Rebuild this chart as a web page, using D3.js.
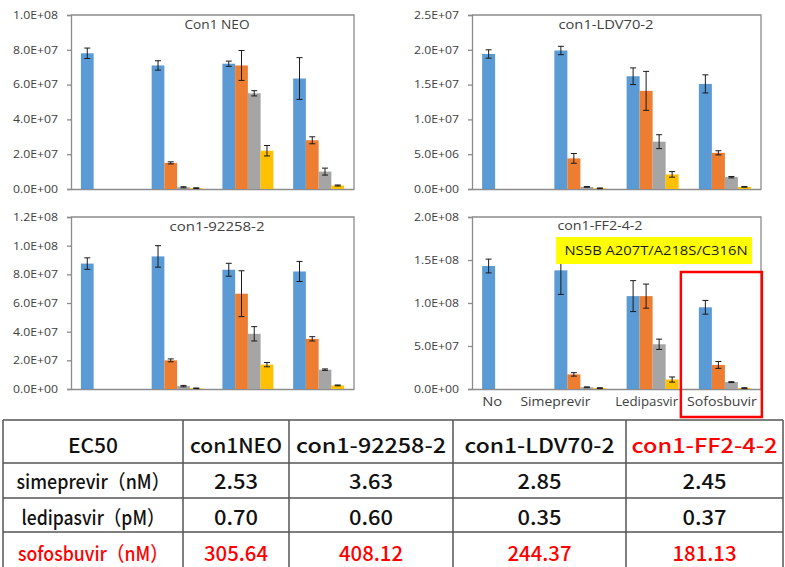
<!DOCTYPE html>
<html>
<head>
<meta charset="utf-8">
<script src="https://cdn.jsdelivr.net/npm/d3@7"></script>
<style>
  html, body { margin: 0; padding: 0; background: #fff; }
  svg { display: block; }
</style>
</head>
<body>
<svg id="chart" width="785" height="567"></svg>
<script>
// ---------------- DATA ----------------
const categories = ["No", "Simeprevir", "Ledipasvir", "Sofosbuvir"];
const seriesNames = ["c1", "c2", "c3", "c4"];
const seriesColors = ["#5B9BD5", "#ED7D31", "#A5A5A5", "#FFC000"];

// con1NEO
const neoValues = [
  [7.8e7, 7.1e7, 7.2e7, 6.35e7],
  [null, 1.5e7, 7.1e7, 2.8e7],
  [null, 1.0e6, 5.5e7, 1.0e7],
  [null, 0.5e6, 2.2e7, 2.0e6]
];
const neoErrors = [
  [3e6, 2.7e6, 1.5e6, 1.2e7],
  [null, 0.6e6, 8.6e6, 2e6],
  [null, 0.3e6, 1.5e6, 2e6],
  [null, 0.2e6, 3e6, 0.3e6]
];
const neoTicks = [0, 2e7, 4e7, 6e7, 8e7, 1e8];

// con1-LDV70-2
const ldvValues = [
  [1.94e7, 1.99e7, 1.62e7, 1.51e7],
  [null, 4.4e6, 1.41e7, 5.2e6],
  [null, 0.3e6, 6.8e6, 1.7e6],
  [null, 0.1e6, 2.1e6, 0.3e6]
];
const ldvErrors = [
  [0.6e6, 0.6e6, 1.2e6, 1.3e6],
  [null, 0.7e6, 2.8e6, 0.3e6],
  [null, 0.05e6, 1.0e6, 0.1e6],
  [null, 0.05e6, 0.4e6, 0.05e6]
];
const ldvTicks = [0, 5e6, 1e7, 1.5e7, 2e7, 2.5e7];

// con1-92258-2
const v92Values = [
  [8.75e7, 9.25e7, 8.32e7, 8.2e7],
  [null, 2.0e7, 6.65e7, 3.5e7],
  [null, 2.0e6, 3.85e7, 1.35e7],
  [null, 0.5e6, 1.7e7, 2.5e6]
];
const v92Errors = [
  [4e6, 7.5e6, 4.5e6, 7e6],
  [null, 1e6, 1.6e7, 1.5e6],
  [null, 0.5e6, 5e6, 0.5e6],
  [null, 0.2e6, 1.5e6, 0.3e6]
];
const v92Ticks = [0, 2e7, 4e7, 6e7, 8e7, 1e8, 1.2e8];

// con1-FF2-4-2
const ffValues = [
  [1.43e8, 1.38e8, 1.08e8, 0.95e8],
  [null, 1.7e7, 1.08e8, 2.8e7],
  [null, 2.0e6, 5.2e7, 8.0e6],
  [null, 1.0e6, 1.1e7, 1.0e6]
];
const ffErrors = [
  [8e6, 2.8e7, 1.8e7, 8e6],
  [null, 2e6, 1.4e7, 4e6],
  [null, 0.5e6, 6e6, 0.5e6],
  [null, 0.5e6, 3e6, 0.5e6]
];
const ffTicks = [0, 5e7, 1e8, 1.5e8, 2e8];

const panelTitles = ["Con1 NEO", "con1-LDV70-2", "con1-92258-2", "con1-FF2-4-2"];
const annotationText = "NS5B  A207T/A218S/C316N";

// table
const tableHeader = ["EC50", "con1NEO", "con1-92258-2", "con1-LDV70-2", "con1-FF2-4-2"];
const tableRowLabels = ["simeprevir（nM）", "ledipasvir（pM）", "sofosbuvir（nM）"];
const simeprevirEC50 = ["2.53", "3.63", "2.85", "2.45"];
const ledipasvirEC50 = ["0.70", "0.60", "0.35", "0.37"];
const sofosbuvirEC50 = ["305.64", "408.12", "244.37", "181.13"];

// ---------------- LAYOUT ----------------
const panels = [
  {title: panelTitles[0], values: neoValues, errors: neoErrors, ticks: neoTicks,
   left: 71, right: 354, top: 15, bottom: 189, titleX: 217, titleY: 29, titleW: 65},
  {title: panelTitles[1], values: ldvValues, errors: ldvErrors, ticks: ldvTicks,
   left: 472, right: 761, top: 15, bottom: 189, titleX: 606, titleY: 29, titleW: 95},
  {title: panelTitles[2], values: v92Values, errors: v92Errors, ticks: v92Ticks,
   left: 71, right: 354, top: 217, bottom: 389, titleX: 217, titleY: 231, titleW: 95},
  {title: panelTitles[3], values: ffValues, errors: ffErrors, ticks: ffTicks,
   left: 472, right: 761, top: 217, bottom: 389, titleX: 600, titleY: 230, titleW: 85, xLabels: true}
];

const svg = d3.select("#chart");
const axisColor = "#8c8c8c";
const textColor = "#404040";

function sci(d) {
  if (d === 0) return "0.0E+00";
  const e = Math.floor(Math.log10(d) + 1e-9);
  const m = d / Math.pow(10, e);
  return m.toFixed(1) + "E+" + String(e).padStart(2, "0");
}

const labelShift = [-16, -25, -6, -3];
const labelWidths = [20, 70, 63, 70];

panels.forEach(p => {
  const g = svg.append("g");
  const x0 = d3.scaleBand().domain(categories).range([p.left, p.right])
    .paddingInner(0.28).paddingOuter(0.14);
  const x1 = d3.scaleBand().domain(seriesNames).range([0, x0.bandwidth()]).padding(0);
  const y = d3.scaleLinear().domain([0, p.ticks[p.ticks.length - 1]]).range([p.bottom, p.top]);

  // frame: top and right lines
  g.append("path")
    .attr("d", `M${p.left},${p.top}H${p.right}V${p.bottom}`)
    .attr("fill", "none").attr("stroke", axisColor).attr("stroke-width", 1.3);

  // y axis
  const yAxis = d3.axisLeft(y).tickValues(p.ticks).tickFormat(sci).tickSize(4).tickPadding(9);
  const ya = g.append("g").attr("transform", `translate(${p.left},0)`).call(yAxis);
  ya.select(".domain").attr("stroke", axisColor).attr("stroke-width", 1.3);
  ya.selectAll(".tick line").attr("stroke", axisColor).attr("stroke-width", 1.3);
  ya.selectAll(".tick text").attr("fill", textColor)
    .attr("font-family", "'Open Sans', sans-serif").attr("font-size", 10.5)
    .attr("textLength", 45).attr("lengthAdjust", "spacingAndGlyphs");

  // x axis (line only)
  const xAxis = d3.axisBottom(x0).tickSize(0).tickFormat("");
  const xa = g.append("g").attr("transform", `translate(0,${p.bottom})`).call(xAxis);
  xa.select(".domain").attr("stroke", axisColor).attr("stroke-width", 1.3);

  // bars
  const barData = [];
  categories.forEach((c, ci) => {
    seriesNames.forEach((s, si) => {
      const v = p.values[si][ci];
      if (v !== null) barData.push({c, s, si, v, e: p.errors[si][ci]});
    });
  });
  g.selectAll("rect.bar").data(barData).enter().append("rect")
    .attr("class", "bar")
    .attr("x", d => x0(d.c) + x1(d.s))
    .attr("width", x1.bandwidth())
    .attr("y", d => y(d.v))
    .attr("height", d => y(0) - y(d.v))
    .attr("fill", d => seriesColors[d.si]);

  // error bars
  const eb = g.selectAll("g.err").data(barData).enter().append("g").attr("class", "err");
  const cx = d => x0(d.c) + x1(d.s) + x1.bandwidth() / 2;
  eb.append("line")
    .attr("x1", cx).attr("x2", cx)
    .attr("y1", d => y(d.v + d.e)).attr("y2", d => y(Math.max(0, d.v - d.e)))
    .attr("stroke", "#1a1a1a").attr("stroke-width", 1);
  [1, -1].forEach(sign => {
    eb.append("line")
      .attr("x1", d => cx(d) - 3).attr("x2", d => cx(d) + 3)
      .attr("y1", d => y(Math.max(0, d.v + sign * d.e))).attr("y2", d => y(Math.max(0, d.v + sign * d.e)))
      .attr("stroke", "#1a1a1a").attr("stroke-width", 1);
  });

  // title
  g.append("text").attr("x", p.titleX).attr("y", p.titleY)
    .attr("text-anchor", "middle").attr("fill", textColor)
    .attr("font-family", "'Open Sans', sans-serif").attr("font-size", 12)
    .attr("textLength", p.titleW).attr("lengthAdjust", "spacingAndGlyphs")
    .text(p.title);

  if (p.xLabels) {
    g.selectAll("text.xl").data(categories).enter().append("text")
      .attr("class", "xl")
      .attr("x", (d, i) => x0(d) + x0.bandwidth() / 2 + labelShift[i])
      .attr("y", p.bottom + 17)
      .attr("text-anchor", "middle").attr("fill", textColor)
      .attr("font-family", "'Open Sans', sans-serif").attr("font-size", 12.5)
      .attr("textLength", (d, i) => labelWidths[i]).attr("lengthAdjust", "spacingAndGlyphs")
      .text(d => d);

    // yellow annotation box
    g.append("rect").attr("x", 556).attr("y", 237).attr("width", 196).attr("height", 27)
      .attr("fill", "#FFFF00");
    g.append("text").attr("x", 656).attr("y", 255)
      .attr("text-anchor", "middle").attr("fill", "#1a1a1a")
      .attr("font-family", "'Open Sans', sans-serif").attr("font-size", 12.5)
      .attr("textLength", 183).attr("lengthAdjust", "spacingAndGlyphs")
      .text(annotationText);

    // red highlight rectangle around Sofosbuvir
    const sx = x0("Sofosbuvir");
    g.append("rect").attr("x", sx - 18).attr("y", 272)
      .attr("width", 81).attr("height", 145)
      .attr("fill", "none").attr("stroke", "#FF0000").attr("stroke-width", 2.5);
  }
});

// ---------------- TABLE ----------------
const colLines = [3, 183, 289, 453, 626, 783];
const rowLines = [420, 463, 498, 532, 572];
const tg = svg.append("g");
const lineColor = "#555";
colLines.forEach(x => tg.append("line").attr("x1", x).attr("x2", x).attr("y1", rowLines[0]).attr("y2", 567)
  .attr("stroke", lineColor).attr("stroke-width", 1.5));
rowLines.forEach(yv => tg.append("line").attr("x1", colLines[0]).attr("x2", colLines[colLines.length - 1])
  .attr("y1", yv).attr("y2", yv).attr("stroke", lineColor).attr("stroke-width", 1.5));

const rowBaselines = [453, 489, 525, 561];
const headerWidths = [50, 92, 150, 150, 146];
const rowLabelWidths = [153, 143, 150];
const red = "#FF0000";
const tableFont = "'Noto Sans CJK JP', 'Noto Sans', sans-serif";

function cellText(col, row, txt, color, w) {
  const t = tg.append("text")
    .attr("x", (colLines[col] + colLines[col + 1]) / 2)
    .attr("y", rowBaselines[row])
    .attr("text-anchor", "middle")
    .attr("fill", color)
    .attr("font-family", tableFont)
    .attr("font-size", 20)
    .attr("font-weight", 500)
    .text(txt);
  if (w) t.attr("textLength", w).attr("lengthAdjust", "spacingAndGlyphs");
}

tableHeader.forEach((h, i) => cellText(i, 0, h, i === 4 ? red : "#111", headerWidths[i]));
tableRowLabels.forEach((l, i) => cellText(0, i + 1, l, i === 2 ? red : "#111", rowLabelWidths[i]));
const rowsData = [simeprevirEC50, ledipasvirEC50, sofosbuvirEC50];
rowsData.forEach((r, ri) => r.forEach((v, ci) =>
  cellText(ci + 1, ri + 1, v, ri === 2 ? red : "#111", v.length > 4 ? 64 : 44)));
</script>
</body>
</html>
